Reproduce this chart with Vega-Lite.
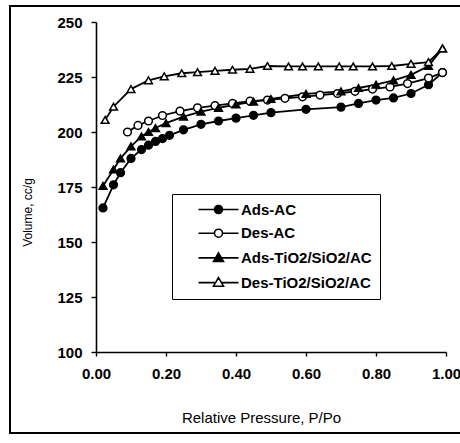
{
  "$schema": "https://vega.github.io/schema/vega-lite/v6.json",
  "autosize": {"type": "none"},
  "padding": {"left": 96, "top": 22, "right": 14, "bottom": 91},
  "width": 350,
  "height": 330,
  "background": "white",
  "config": {
    "view": {"stroke": null},
    "font": "Liberation Sans",
    "axis": {"grid": false, "domainColor": "black", "domainWidth": 1.6, "tickColor": "black", "tickWidth": 1.4, "labelColor": "black", "titleColor": "black", "labelFont": "Liberation Sans", "titleFont": "Liberation Sans", "labelFlush": false}
  },
  "data": {"values": [
    {"s": "Ads-AC", "p": 0.02, "v": 165.5}, {"s": "Ads-AC", "p": 0.05, "v": 176}, {"s": "Ads-AC", "p": 0.07, "v": 181.5}, {"s": "Ads-AC", "p": 0.10, "v": 188}, {"s": "Ads-AC", "p": 0.13, "v": 192}, {"s": "Ads-AC", "p": 0.15, "v": 194}, {"s": "Ads-AC", "p": 0.17, "v": 195.7}, {"s": "Ads-AC", "p": 0.19, "v": 197}, {"s": "Ads-AC", "p": 0.21, "v": 198.5}, {"s": "Ads-AC", "p": 0.25, "v": 201}, {"s": "Ads-AC", "p": 0.30, "v": 203.5}, {"s": "Ads-AC", "p": 0.35, "v": 205}, {"s": "Ads-AC", "p": 0.40, "v": 206.3}, {"s": "Ads-AC", "p": 0.45, "v": 207.6}, {"s": "Ads-AC", "p": 0.50, "v": 208.8}, {"s": "Ads-AC", "p": 0.60, "v": 210.3}, {"s": "Ads-AC", "p": 0.70, "v": 211.3}, {"s": "Ads-AC", "p": 0.75, "v": 213}, {"s": "Ads-AC", "p": 0.80, "v": 214.5}, {"s": "Ads-AC", "p": 0.85, "v": 215.5}, {"s": "Ads-AC", "p": 0.90, "v": 217.5}, {"s": "Ads-AC", "p": 0.95, "v": 221.5}, {"s": "Ads-AC", "p": 0.99, "v": 227},
    {"s": "Des-AC", "p": 0.09, "v": 200}, {"s": "Des-AC", "p": 0.12, "v": 203}, {"s": "Des-AC", "p": 0.15, "v": 205}, {"s": "Des-AC", "p": 0.19, "v": 207.5}, {"s": "Des-AC", "p": 0.24, "v": 209.5}, {"s": "Des-AC", "p": 0.29, "v": 211}, {"s": "Des-AC", "p": 0.34, "v": 212}, {"s": "Des-AC", "p": 0.39, "v": 213}, {"s": "Des-AC", "p": 0.44, "v": 214}, {"s": "Des-AC", "p": 0.49, "v": 214.5}, {"s": "Des-AC", "p": 0.54, "v": 215.3}, {"s": "Des-AC", "p": 0.59, "v": 216}, {"s": "Des-AC", "p": 0.64, "v": 216.8}, {"s": "Des-AC", "p": 0.69, "v": 217.5}, {"s": "Des-AC", "p": 0.74, "v": 218.5}, {"s": "Des-AC", "p": 0.79, "v": 219.5}, {"s": "Des-AC", "p": 0.84, "v": 220.5}, {"s": "Des-AC", "p": 0.89, "v": 222}, {"s": "Des-AC", "p": 0.95, "v": 224.5}, {"s": "Des-AC", "p": 0.99, "v": 227},
    {"s": "Ads-TiO2/SiO2/AC", "p": 0.02, "v": 175.5}, {"s": "Ads-TiO2/SiO2/AC", "p": 0.05, "v": 183}, {"s": "Ads-TiO2/SiO2/AC", "p": 0.07, "v": 188}, {"s": "Ads-TiO2/SiO2/AC", "p": 0.10, "v": 193.5}, {"s": "Ads-TiO2/SiO2/AC", "p": 0.13, "v": 198}, {"s": "Ads-TiO2/SiO2/AC", "p": 0.15, "v": 200}, {"s": "Ads-TiO2/SiO2/AC", "p": 0.17, "v": 201.8}, {"s": "Ads-TiO2/SiO2/AC", "p": 0.20, "v": 204}, {"s": "Ads-TiO2/SiO2/AC", "p": 0.25, "v": 207}, {"s": "Ads-TiO2/SiO2/AC", "p": 0.30, "v": 209.3}, {"s": "Ads-TiO2/SiO2/AC", "p": 0.35, "v": 211}, {"s": "Ads-TiO2/SiO2/AC", "p": 0.40, "v": 212.5}, {"s": "Ads-TiO2/SiO2/AC", "p": 0.45, "v": 213.8}, {"s": "Ads-TiO2/SiO2/AC", "p": 0.50, "v": 215}, {"s": "Ads-TiO2/SiO2/AC", "p": 0.60, "v": 217.3}, {"s": "Ads-TiO2/SiO2/AC", "p": 0.70, "v": 218.5}, {"s": "Ads-TiO2/SiO2/AC", "p": 0.75, "v": 220}, {"s": "Ads-TiO2/SiO2/AC", "p": 0.80, "v": 221.5}, {"s": "Ads-TiO2/SiO2/AC", "p": 0.85, "v": 223.5}, {"s": "Ads-TiO2/SiO2/AC", "p": 0.90, "v": 226}, {"s": "Ads-TiO2/SiO2/AC", "p": 0.95, "v": 230}, {"s": "Ads-TiO2/SiO2/AC", "p": 0.99, "v": 238},
    {"s": "Des-TiO2/SiO2/AC", "p": 0.026, "v": 205.5}, {"s": "Des-TiO2/SiO2/AC", "p": 0.05, "v": 211.5}, {"s": "Des-TiO2/SiO2/AC", "p": 0.10, "v": 219.5}, {"s": "Des-TiO2/SiO2/AC", "p": 0.15, "v": 223.5}, {"s": "Des-TiO2/SiO2/AC", "p": 0.195, "v": 225.3}, {"s": "Des-TiO2/SiO2/AC", "p": 0.245, "v": 226.7}, {"s": "Des-TiO2/SiO2/AC", "p": 0.29, "v": 227.2}, {"s": "Des-TiO2/SiO2/AC", "p": 0.34, "v": 227.8}, {"s": "Des-TiO2/SiO2/AC", "p": 0.39, "v": 228.3}, {"s": "Des-TiO2/SiO2/AC", "p": 0.44, "v": 228.7}, {"s": "Des-TiO2/SiO2/AC", "p": 0.49, "v": 230}, {"s": "Des-TiO2/SiO2/AC", "p": 0.55, "v": 229.8}, {"s": "Des-TiO2/SiO2/AC", "p": 0.59, "v": 229.8}, {"s": "Des-TiO2/SiO2/AC", "p": 0.635, "v": 229.8}, {"s": "Des-TiO2/SiO2/AC", "p": 0.695, "v": 229.8}, {"s": "Des-TiO2/SiO2/AC", "p": 0.735, "v": 229.8}, {"s": "Des-TiO2/SiO2/AC", "p": 0.79, "v": 229.8}, {"s": "Des-TiO2/SiO2/AC", "p": 0.845, "v": 230}, {"s": "Des-TiO2/SiO2/AC", "p": 0.90, "v": 231}, {"s": "Des-TiO2/SiO2/AC", "p": 0.95, "v": 231.8}, {"s": "Des-TiO2/SiO2/AC", "p": 0.99, "v": 238}
  ]},
  "resolve": {"scale": {"shape": "independent"}, "legend": {"shape": "independent"}},
  "layer": [
    {
      "mark": {"type": "rule", "stroke": "black", "strokeWidth": 1.5, "clip": false},
      "encoding": {
        "x": {"datum": -0.246, "type": "quantitative", "scale": {"domain": [0, 1], "nice": false}},
        "y": {"datum": 257.3, "type": "quantitative", "scale": {"domain": [100, 250], "nice": false, "zero": false}},
        "y2": {"datum": 63.2}
      }
    },
    {
      "mark": {"type": "rule", "stroke": "black", "strokeWidth": 1.5, "clip": false},
      "encoding": {
        "x": {"datum": -0.246, "type": "quantitative", "scale": {"domain": [0, 1], "nice": false}},
        "x2": {"datum": 1.5},
        "y": {"datum": 257.3, "type": "quantitative", "scale": {"domain": [100, 250], "nice": false, "zero": false}}
      }
    },
    {
      "mark": {"type": "rule", "stroke": "black", "strokeWidth": 1.5, "clip": false},
      "encoding": {
        "x": {"datum": -0.246, "type": "quantitative", "scale": {"domain": [0, 1], "nice": false}},
        "x2": {"datum": 1.5},
        "y": {"datum": 63.2, "type": "quantitative", "scale": {"domain": [100, 250], "nice": false, "zero": false}}
      }
    },
    {
      "mark": {"type": "line", "stroke": "black", "strokeWidth": 1.8},
      "encoding": {
        "x": {"field": "p", "type": "quantitative", "scale": {"domain": [0, 1], "nice": false},
          "axis": {"values": [0, 0.2, 0.4, 0.6, 0.8, 1.0], "format": ".2f", "title": "Relative Pressure, P/Po", "labelFontSize": 15, "labelFontWeight": "bold", "tickSize": 4, "labelPadding": 10, "titleFontSize": 15, "titleFontWeight": "normal", "titleX": 165, "titleY": 65, "titleBaseline": "middle", "titleAnchor": "middle", "titleAlign": "center"}},
        "y": {"field": "v", "type": "quantitative", "scale": {"domain": [100, 250], "nice": false, "zero": false},
          "axis": {"values": [100, 125, 150, 175, 200, 225, 250], "title": "Volume, cc/g", "labelFontSize": 15, "labelFontWeight": "bold", "tickSize": 5, "labelPadding": 9, "titleFontSize": 12, "titleFontWeight": "normal", "titleX": -69, "titleY": 190, "titleAngle": -90, "titleBaseline": "middle", "titleAlign": "center", "titleAnchor": "middle"}},
        "detail": {"field": "s"},
        "order": {"field": "p", "type": "quantitative"}
      }
    },
    {
      "mark": {"type": "point", "stroke": "black", "strokeWidth": 1.5, "opacity": 1, "size": 60, "filled": true},
      "encoding": {
        "x": {"field": "p", "type": "quantitative", "scale": {"domain": [0, 1], "nice": false}},
        "y": {"field": "v", "type": "quantitative", "scale": {"domain": [100, 250], "nice": false, "zero": false}},
        "shape": {"field": "s", "type": "nominal",
          "scale": {"domain": ["Ads-AC", "Des-AC", "Ads-TiO2/SiO2/AC", "Des-TiO2/SiO2/AC"], "range": ["circle", "circle", "triangle-up", "triangle-up"]},
          "legend": null},
        "fill": {"field": "s", "type": "nominal",
          "scale": {"domain": ["Ads-AC", "Des-AC", "Ads-TiO2/SiO2/AC", "Des-TiO2/SiO2/AC"], "range": ["black", "white", "black", "white"]},
          "legend": null}
      }
    },
    {
      "transform": [{"filter": "datum.p > 5"}],
      "mark": {"type": "point", "stroke": "black", "strokeWidth": 1.5, "opacity": 1, "filled": false},
      "encoding": {
        "x": {"field": "p", "type": "quantitative", "scale": {"domain": [0, 1], "nice": false}},
        "y": {"field": "v", "type": "quantitative", "scale": {"domain": [100, 250], "nice": false, "zero": false}},
        "shape": {"field": "s", "type": "nominal",
          "scale": {"domain": ["Ads-AC", "Des-AC", "Ads-TiO2/SiO2/AC", "Des-TiO2/SiO2/AC"],
            "range": [
              "M-5,0H-1M1,0H5M1,0A1,1 0 1,1 -1,0A1,1 0 1,1 1,0ZM0.6,0A0.6,0.6 0 1,1 -0.6,0A0.6,0.6 0 1,1 0.6,0ZM0.2,0A0.2,0.2 0 1,1 -0.2,0A0.2,0.2 0 1,1 0.2,0Z",
              "M-5,0H-1M1,0H5M1,0A1,1 0 1,1 -1,0A1,1 0 1,1 1,0Z",
              "M-5,0H-0.7M0.7,0H5M0,-1.25L1.25,0.9L-1.25,0.9ZM0,-0.677L0.75,0.613L-0.75,0.613ZM0,-0.175L0.3125,0.362L-0.3125,0.362Z",
              "M-5,0H-0.7M0.7,0H5M0,-1.25L1.25,0.9L-1.25,0.9Z"]},
          "legend": {
            "title": null, "orient": "none", "legendX": 76, "legendY": 172,
            "strokeColor": "black", "fillColor": "white",
            "padding": 8, "rowPadding": 7.7, "symbolSize": 64, "symbolOffset": 31, "labelOffset": 15,
            "symbolStrokeColor": "black", "symbolStrokeWidth": 1.6,
            "labelFontSize": 15, "labelFontWeight": "bold", "labelColor": "black", "labelFont": "Liberation Sans", "labelLimit": 300
          }}
      }
    }
  ]
}
